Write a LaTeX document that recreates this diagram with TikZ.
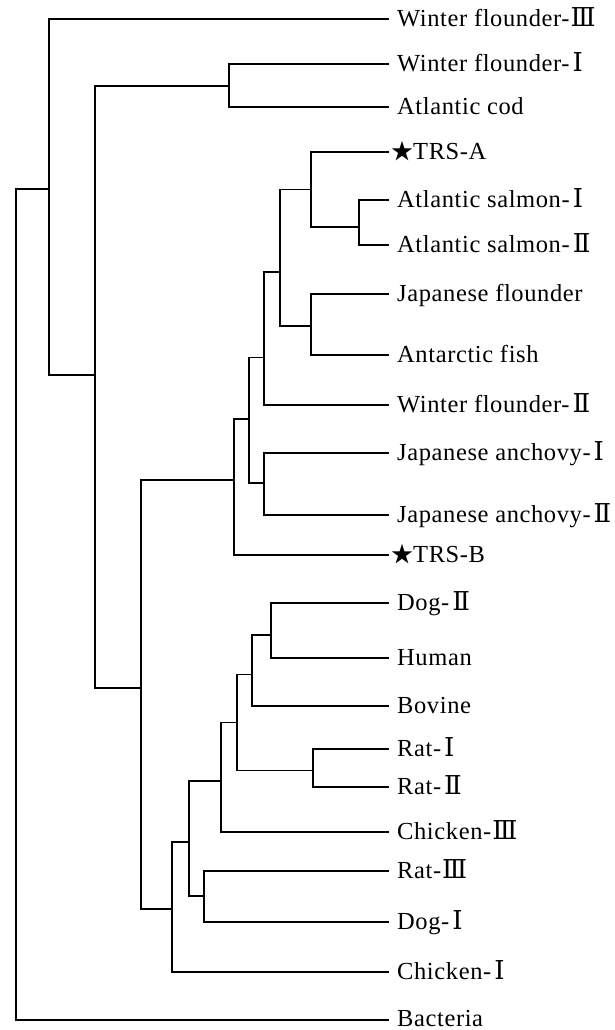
\documentclass[tikz,border=0pt]{standalone}
\usepackage{fontspec}
\setmainfont[LetterSpace=2.5]{Liberation Serif}
\newfontfamily\numfont{DejaVu Serif}
\newfontfamily\cjk{Noto Sans CJK SC}
\newcommand\numI{\kern3pt{\numfont\fontsize{26}{28}\selectfont Ⅰ}}
\newcommand\numII{\kern3pt{\numfont\fontsize{26}{28}\selectfont Ⅱ}}
\newcommand\numIII{\kern1pt{\numfont\fontsize{26}{28}\selectfont Ⅲ}}
\newcommand\starmark{{\cjk\fontsize{22}{24}\selectfont ★}}
\tikzset{
  branch/.style={line width=1.1pt, line cap=rect},
  taxon/.style={anchor=base west, inner sep=0pt, font=\fontsize{24.5}{27}\selectfont},
}
\begin{document}
\begin{tikzpicture}[x=1pt, y=-1pt]
\useasboundingbox (0,0) rectangle (614,1030);

% internal nodes (x = depth, y = attachment height)
\coordinate (root) at (16,189);
\coordinate (nA) at (49,189);
\coordinate (nB) at (95,375);
\coordinate (nC) at (229,86);
\coordinate (nD) at (141,688);
\coordinate (nE) at (234,480);
\coordinate (nF) at (249,419);
\coordinate (nG) at (264,357.5);
\coordinate (nH) at (280,272);
\coordinate (nI) at (311,189.5);
\coordinate (nJ) at (359,227);
\coordinate (nK) at (311,326);
\coordinate (nAn) at (264,483);
\coordinate (nL) at (172,909);
\coordinate (nM) at (189,842);
\coordinate (nN) at (204,896);
\coordinate (nO) at (221,781);
\coordinate (nP) at (237,722.7);
\coordinate (nQ) at (252,674.5);
\coordinate (nR) at (271,635);
\coordinate (nS) at (313,770.5);

% leaf tips
\foreach \name/\yy in {wf3/19, wf1/64, cod/107, trsa/152, salI/200, salII/245,
  jfl/294, ant/355, wf2/405, jaI/453, jaII/515, trsb/555, dogII/603, hum/658,
  bov/706, ratI/749, ratII/787, chIII/832, ratIII/871, dogI/922, chI/972, bac/1020}
  \coordinate (\name) at (388,\yy);

% labels
\node[taxon] (Lwf3) at (397,26.5) {Winter flounder-\numIII};
\node[taxon] (Lwf1) at (397,71.5) {Winter flounder-\numI};
\node[taxon] (Lcod) at (397,114.5) {Atlantic cod};
\node[taxon] (Ltrsa) at (391,159.5) {\starmark TRS-A};
\node[taxon] (LsalI) at (397,207.5) {Atlantic salmon-\numI};
\node[taxon] (LsalII) at (397,252.5) {Atlantic salmon-\numII};
\node[taxon] (Ljfl) at (397,301.5) {Japanese flounder};
\node[taxon] (Lant) at (397,362.5) {Antarctic fish};
\node[taxon] (Lwf2) at (397,412.5) {Winter flounder-\numII};
\node[taxon] (LjaI) at (397,460.5) {Japanese anchovy-\numI};
\node[taxon] (LjaII) at (397,522.5) {Japanese anchovy-\numII};
\node[taxon] (Ltrsb) at (391,562.5) {\starmark TRS-B};
\node[taxon] (LdogII) at (397,610.5) {Dog-\numII};
\node[taxon] (Lhum) at (397,665.5) {Human};
\node[taxon] (Lbov) at (397,713.5) {Bovine};
\node[taxon] (LratI) at (397,756.5) {Rat-\numI};
\node[taxon] (LratII) at (397,794.5) {Rat-\numII};
\node[taxon] (LchIII) at (397,839.5) {Chicken-\numIII};
\node[taxon] (LratIII) at (397,878.5) {Rat-\numIII};
\node[taxon] (LdogI) at (397,929.5) {Dog-\numI};
\node[taxon] (LchI) at (397,979.5) {Chicken-\numI};
\node[taxon, text depth=0pt] (Lbac) at (397,1026.5) {Bacteria};

% branches: parent |- child
\foreach \p/\c in {root/nA, root/bac,
  nA/wf3, nA/nB,
  nB/nC, nB/nD,
  nC/wf1, nC/cod,
  nD/nE, nD/nL,
  nE/nF, nE/trsb,
  nF/nG, nF/nAn,
  nG/nH, nG/wf2,
  nH/nI, nH/nK,
  nI/trsa, nI/nJ,
  nJ/salI, nJ/salII,
  nK/jfl, nK/ant,
  nAn/jaI, nAn/jaII,
  nL/nM, nL/chI,
  nM/nO, nM/nN,
  nN/ratIII, nN/dogI,
  nO/nP, nO/chIII,
  nP/nQ, nP/nS,
  nQ/nR, nQ/bov,
  nR/dogII, nR/hum,
  nS/ratI, nS/ratII}
  \draw[branch] (\p) |- (\c);
\end{tikzpicture}
\end{document}
